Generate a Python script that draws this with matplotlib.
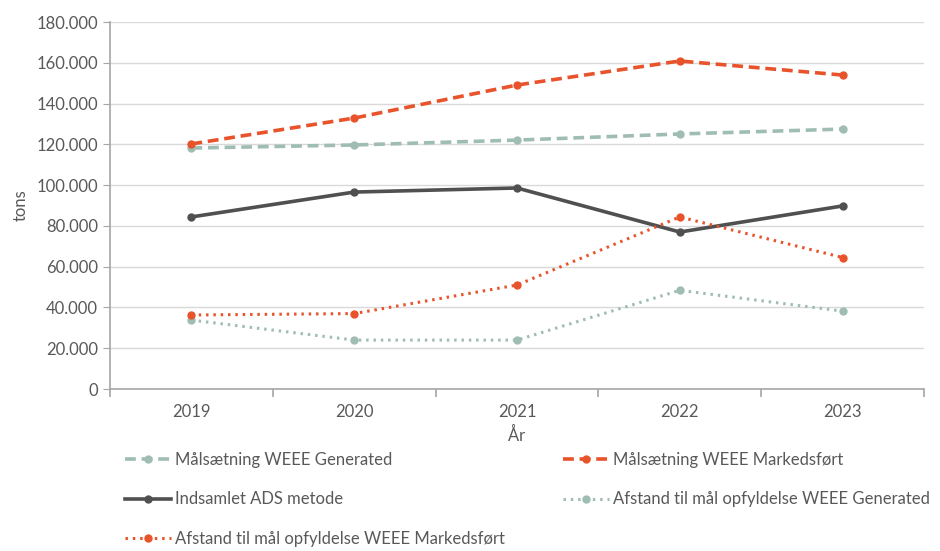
import matplotlib
matplotlib.use("Agg")
import matplotlib.pyplot as plt
from matplotlib.ticker import FuncFormatter, FixedLocator

years = ["2019", "2020", "2021", "2022", "2023"]
maal_generated = [118200, 119700, 122100, 125100, 127500]
maal_markedsfoert = [120200, 132900, 149100, 160900, 154000]
indsamlet_ads = [84400, 96600, 98600, 77000, 89800]
afstand_generated = [33800, 24000, 24000, 48400, 38200]
afstand_markedsfoert = [36300, 37000, 51000, 84400, 64500]

plt.rcParams['font.family'] = ['Lato', 'DejaVu Sans']
GREEN = "#9fbdb2"
ORANGE = "#e8532b"
DARK = "#505050"
TXT = "#595959"
FS = 12

fig = plt.figure(figsize=(9.4, 5.51), dpi=100)
ax = fig.add_axes([0.117, 0.294, 0.866, 0.666])

l1, = ax.plot(years, maal_generated, color=GREEN, lw=2.6, ls=(0, (3, 1.6)),
              marker='o', ms=5, label="Målsætning WEEE Generated")
l2, = ax.plot(years, maal_markedsfoert, color=ORANGE, lw=2.6, ls=(0, (3, 1.6)),
              marker='o', ms=5, label="Målsætning WEEE Markedsført")
l3, = ax.plot(years, indsamlet_ads, color=DARK, lw=2.6, ls='-',
              marker='o', ms=5, label="Indsamlet ADS metode")
l4, = ax.plot(years, afstand_generated, color=GREEN, lw=2.2, ls=(0, (0.8, 1.6)),
              marker='o', ms=5, label="Afstand til mål opfyldelse WEEE Generated")
l5, = ax.plot(years, afstand_markedsfoert, color=ORANGE, lw=2.2, ls=(0, (0.8, 1.6)),
              marker='o', ms=5, label="Afstand til mål opfyldelse WEEE Markedsført")

ax.set_xlim(-0.5, 4.5)
ax.set_ylim(0, 180000)
ax.set_yticks(range(0, 180001, 20000))
ax.yaxis.set_major_formatter(FuncFormatter(lambda v, p: f"{int(v):,}".replace(",", ".")))
ax.grid(axis='y', color="#d9d9d9", lw=1)
ax.set_axisbelow(True)
for s in ['top', 'right']:
    ax.spines[s].set_visible(False)
for s in ['left', 'bottom']:
    ax.spines[s].set_color("#a6a6a6")
    ax.spines[s].set_linewidth(1.2)
ax.tick_params(axis='y', colors="#a6a6a6", length=5, labelcolor=TXT, labelsize=FS)
ax.tick_params(axis='x', which='major', length=0, labelcolor=TXT, labelsize=FS, pad=11)
ax.xaxis.set_minor_locator(FixedLocator([-0.5, 0.5, 1.5, 2.5, 3.5, 4.5]))
ax.tick_params(axis='x', which='minor', length=6, color="#a6a6a6", width=1.2)

ax.set_ylabel("tons", color=TXT, fontsize=FS, labelpad=6)
ax.set_xlabel("År", color=TXT, fontsize=FS, labelpad=5)

leg = fig.legend(handles=[l1, l3, l5, l2, l4], loc='upper left',
                 bbox_to_anchor=(0.133, 0.180), ncol=2, frameon=False,
                 fontsize=FS, labelcolor=TXT, handlelength=2.75, handletextpad=0.25,
                 labelspacing=1.42, columnspacing=3.5, borderaxespad=0, borderpad=0)

fig.savefig("out.png", dpi=100)
